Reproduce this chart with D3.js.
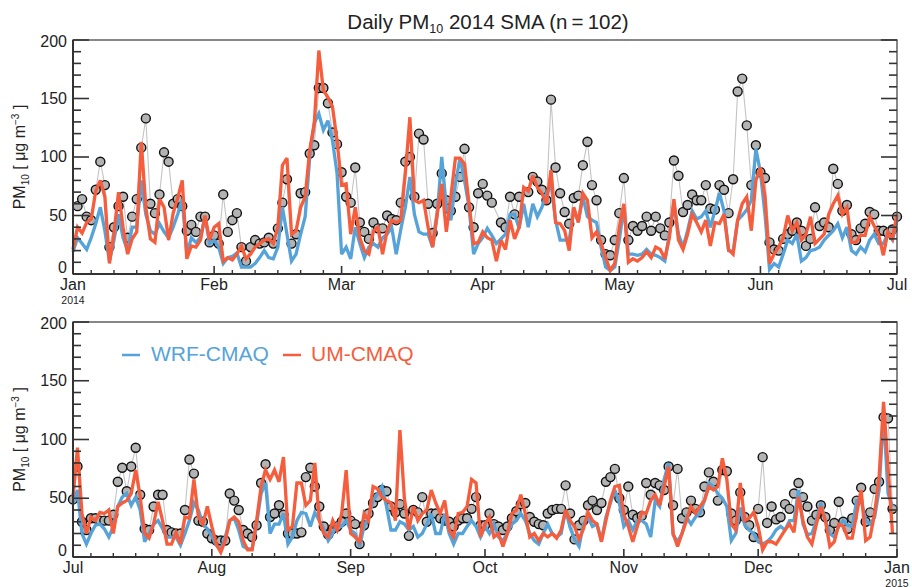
<!DOCTYPE html>
<html><head><meta charset="utf-8">
<script src="https://cdn.jsdelivr.net/npm/d3@7"></script>
<style>
body{margin:0;background:#fff}
svg{display:block}
text{font-family:"Liberation Sans",Arial,Helvetica,sans-serif;fill:#222}
</style>
</head><body>
<svg id="chart" width="912" height="587"></svg>
<script>
// ---------- DATA (daily, 2014-01-01 .. 2014-12-31) ----------
const startYear = 2014;
// Observed daily mean PM10 (null = no observation)
const obsJanJun = [null,58,64,49,46,72,96,76,23,40,58,66,31,49,64,108,133,60,52,68,104,96,60,64,58,37,42,36,49,49,27,33,26,68,36,46,52,23,11,23,29,26,27,31,26,39,61,81,26,34,69,70,103,110,159,159,146,121,111,87,66,61,91,44,36,30,44,39,39,50,47,46,61,96,100,66,120,115,60,35,60,86,63,54,66,83,107,57,40,69,77,67,61,null,44,40,66,51,66,null,70,83,79,72,63,149,91,69,53,43,65,67,93,113,76,63,29,17,16,29,52,82,29,41,37,41,49,37,49,39,33,44,97,84,53,59,68,63,63,76,56,55,76,72,52,81,156,167,127,76,110,87,82,27,21,20,30,34,37,44,37,24,30,57,41,44,40,90,77,54,59,34,29,39,43,53,51,37,37,35,38];
const obsJulDec = [49,77,30,23,33,33,31,31,31,36,64,76,56,77,93,53,24,23,43,53,53,23,21,20,20,40,83,71,31,30,20,16,14,14,14,54,48,40,23,20,17,27,63,79,34,37,44,36,20,20,20,21,68,76,60,43,26,19,24,26,30,37,31,28,11,27,37,46,51,57,56,43,38,45,37,18,40,38,51,30,37,37,33,31,30,26,31,33,33,41,51,27,27,37,28,26,23,26,33,39,45,46,34,30,28,27,37,40,41,41,61,37,15,27,31,44,48,40,46,64,68,75,50,40,60,36,33,35,63,53,63,61,57,77,44,75,33,38,48,41,38,60,72,64,48,74,73,37,31,55,34,27,17,41,85,29,43,32,34,45,41,54,63,51,43,31,36,44,34,23,29,47,30,24,33,48,59,30,38,58,64,119,118,41];
// WRF-CMAQ simulated PM10
const wrfJanJun = [19,31,26,21,31,43,57,37,11,29,51,31,20,40,40,80,51,37,34,43,36,31,40,51,64,17,31,27,31,49,26,29,23,9,14,15,18,6,6,6,9,14,20,14,13,23,57,34,11,17,34,49,100,129,137,123,131,114,86,17,23,13,40,26,14,23,26,23,31,34,40,17,38,57,83,51,36,34,34,23,51,100,57,46,77,99,80,57,17,26,31,39,33,26,30,34,51,51,39,60,40,60,49,57,69,77,46,29,29,29,55,45,66,49,46,44,23,6,3,6,29,57,17,17,16,17,21,17,16,14,11,34,60,34,23,37,54,47,49,54,40,54,69,54,20,19,46,50,55,63,107,87,51,4,9,6,17,29,26,34,11,14,20,21,23,29,33,37,43,31,40,20,17,23,19,29,34,26,26,34,29];
const wrfJulDec = [46,57,20,11,20,27,28,24,17,26,43,51,54,44,51,40,13,20,28,31,24,17,17,17,10,20,31,46,40,28,24,18,10,6,17,31,33,23,9,7,7,28,54,63,20,28,28,37,11,17,31,38,37,26,38,31,24,14,20,28,26,31,23,20,9,26,34,48,54,60,43,23,23,30,28,23,26,17,20,28,37,20,20,37,20,11,20,20,26,31,26,17,26,20,28,17,14,20,28,31,37,31,20,14,11,20,28,20,17,20,40,25,15,9,28,34,26,28,14,34,46,57,46,26,31,23,31,31,28,17,48,43,66,80,19,13,20,34,28,34,37,48,63,60,54,50,43,14,20,42,27,23,20,13,11,13,17,23,26,23,31,31,57,28,19,20,31,46,31,20,17,26,31,27,26,48,48,31,28,34,57,122,54,43];
// UM-CMAQ simulated PM10
const umJanJun = [21,40,35,44,47,71,80,66,9,35,70,40,17,30,36,113,57,30,27,64,57,29,52,65,80,13,24,23,29,50,29,40,43,11,14,12,17,24,13,17,23,26,29,30,26,40,93,99,34,37,57,66,106,129,191,157,151,143,114,76,77,34,57,31,20,17,37,40,17,37,46,44,46,86,134,63,61,63,40,23,51,77,36,66,99,99,94,60,26,27,36,31,29,11,29,21,46,30,40,74,71,84,74,69,60,89,44,43,37,20,57,44,69,63,31,36,26,14,3,9,40,60,10,13,11,14,19,14,23,21,13,31,64,29,21,34,51,44,36,46,24,44,43,51,21,17,46,60,66,37,80,91,66,9,17,23,31,50,37,44,29,34,49,26,30,34,51,60,67,51,57,27,27,33,33,49,41,33,16,36,30];
const umJulDec = [51,93,37,20,34,31,38,37,40,20,43,46,48,54,74,51,20,16,28,47,31,11,11,21,11,34,33,66,34,28,43,26,11,4,14,31,34,30,14,6,6,31,60,74,66,74,64,85,23,26,63,63,44,48,80,31,20,17,31,23,37,74,20,17,13,37,31,60,58,51,48,46,31,108,50,23,43,31,37,40,57,46,37,48,23,17,37,38,43,66,63,17,28,34,17,20,9,20,37,40,53,37,17,20,14,20,17,20,16,23,40,31,26,15,24,38,31,28,13,31,48,60,61,36,26,13,26,38,37,48,53,44,60,77,20,9,20,31,43,37,43,48,60,57,60,84,66,28,23,63,31,33,38,26,6,13,13,11,17,23,28,21,51,31,17,11,28,43,31,9,13,28,26,16,16,37,57,14,17,37,68,132,76,20];
const topMonthLabels = ["Jan","Feb","Mar","Apr","May","Jun","Jul"];
const bottomMonthLabels = ["Jul","Aug","Sep","Oct","Nov","Dec","Jan"];
const yTickValues = [0,50,100,150,200];
const seriesNames = ["WRF-CMAQ","UM-CMAQ"];
const seriesColors = ["#56a3da","#f55d3c"];

// ---------- BUILD ----------
const obs = obsJanJun.slice(0,181).concat(obsJulDec);
const wrf = wrfJanJun.slice(0,181).concat(wrfJulDec);
const um  = umJanJun.slice(0,181).concat(umJulDec);
const dayDate = i => new Date(Date.UTC(startYear,0,1+i));

const svg = d3.select("#chart");
const L = 73, R = 897;

// title
const title = svg.append("text").attr("x",488).attr("y",29).attr("text-anchor","middle").style("font-size","20.5px");
title.append("tspan").text("Daily PM");
title.append("tspan").attr("dy",4).style("font-size","12.5px").text("10");
title.append("tspan").attr("dy",-4).text(" 2014 SMA (n\u2009=\u2009102)");

const panels = [
  {x0:new Date(Date.UTC(2014,0,1)), x1:new Date(Date.UTC(2014,6,1)), top:40, bottom:274, months:topMonthLabels, from:0, to:181, year:"2014", yearAt:"start"},
  {x0:new Date(Date.UTC(2014,6,1)), x1:new Date(Date.UTC(2015,0,1)), top:322, bottom:557, months:bottomMonthLabels, from:181, to:364, year:"2015", yearAt:"end", legend:true}
];

panels.forEach(p => {
  const x = d3.scaleUtc().domain([p.x0,p.x1]).range([L,R]);
  const y = d3.scaleLinear().domain([0,200]).range([p.bottom,p.top]);
  const g = svg.append("g");
  const idx = d3.range(p.from, p.to+1);
  const obsIdx = idx.filter(i => obs[i] != null);

  // observations line
  g.append("path")
    .attr("d", d3.line().x(i => x(dayDate(i))).y(i => y(obs[i]))(obsIdx))
    .attr("fill","none").attr("stroke","#c4c4c4").attr("stroke-width",1.1);
  g.selectAll("circle.obs").data(obsIdx).join("circle").attr("class","obs")
    .attr("cx", i => x(dayDate(i))).attr("cy", i => y(obs[i])).attr("r",4.5)
    .attr("fill","#b3b3b3").attr("stroke","#111").attr("stroke-width",1.4);

  // model lines
  [wrf, um].forEach((s,k) => {
    g.append("path")
      .attr("d", d3.line().x(i => x(dayDate(i))).y(i => y(s[i]))(idx))
      .attr("fill","none").attr("stroke",seriesColors[k]).attr("stroke-width",3.3)
      .attr("stroke-linejoin","miter").attr("stroke-miterlimit",3);
  });

  // frame
  const axc = "#333";
  g.append("rect").attr("x",L).attr("y",p.top).attr("width",R-L).attr("height",p.bottom-p.top)
    .attr("fill","none").attr("stroke","#555").attr("stroke-width",1.4);
  g.append("line").attr("x1",L).attr("x2",L).attr("y1",p.top).attr("y2",p.bottom).attr("stroke",axc).attr("stroke-width",2);
  g.append("line").attr("x1",L).attr("x2",R).attr("y1",p.bottom).attr("y2",p.bottom).attr("stroke",axc).attr("stroke-width",2);

  // y ticks (both sides, inward)
  d3.range(0,201,10).forEach(v => {
    const len = v % 50 === 0 ? 16 : 8;
    g.append("line").attr("x1",L).attr("x2",L+len).attr("y1",y(v)).attr("y2",y(v)).attr("stroke",axc).attr("stroke-width",1.6);
    g.append("line").attr("x1",R).attr("x2",R-len).attr("y1",y(v)).attr("y2",y(v)).attr("stroke",axc).attr("stroke-width",1.6);
  });
  yTickValues.forEach(v => {
    const off = v === 0 ? -5 : (v === 200 ? 3 : 1);
    g.append("text").attr("x",67).attr("y",y(v)+off).attr("text-anchor","end")
      .attr("dominant-baseline","middle").style("font-size","16px").text(v);
  });

  // x ticks: months (long) and 5th,10th,...,25th (short)
  const monthTicks = d3.utcMonth.range(p.x0, d3.utcDay.offset(p.x1,1));
  monthTicks.forEach((d,k) => {
    g.append("line").attr("x1",x(d)).attr("x2",x(d)).attr("y1",p.bottom).attr("y2",p.bottom-8).attr("stroke",axc).attr("stroke-width",1.6);
    g.append("text").attr("x",x(d)).attr("y",p.bottom+16).attr("text-anchor","middle").style("font-size","16px").text(p.months[k]);
  });
  d3.utcDay.range(p.x0,p.x1).filter(d => [5,10,15,20,25].includes(d.getUTCDate())).forEach(d => {
    g.append("line").attr("x1",x(d)).attr("x2",x(d)).attr("y1",p.bottom).attr("y2",p.bottom-4).attr("stroke",axc).attr("stroke-width",1.4);
  });
  g.append("text").attr("x", p.yearAt==="start" ? L : R).attr("y",p.bottom+29.5).attr("text-anchor","middle")
    .style("font-size","10.5px").text(p.year);

  // y axis title
  const yt = g.append("text").attr("transform",`translate(25,${(p.top+p.bottom)/2}) rotate(-90)`)
    .attr("text-anchor","middle").style("font-size","16px");
  yt.append("tspan").text("PM");
  yt.append("tspan").attr("dy",4).style("font-size","10px").text("10");
  yt.append("tspan").attr("dy",-4).text(" [ \u03bcg m");
  yt.append("tspan").attr("dy",-6).style("font-size","10px").text("\u22123");
  yt.append("tspan").attr("dy",6).text(" ]");

  if (p.legend) {
    const ly = 355;
    const items = [{x:122, tx:151}, {x:283, tx:311}];
    items.forEach((it,k) => {
      g.append("line").attr("x1",it.x).attr("x2",it.x+18).attr("y1",ly).attr("y2",ly).attr("stroke",seriesColors[k]).attr("stroke-width",2.5);
      g.append("text").attr("x",it.tx).attr("y",ly).attr("dominant-baseline","middle")
        .style("font-size","21px").style("fill",seriesColors[k]).text(seriesNames[k]);
    });
  }
});
</script>
</body></html>
